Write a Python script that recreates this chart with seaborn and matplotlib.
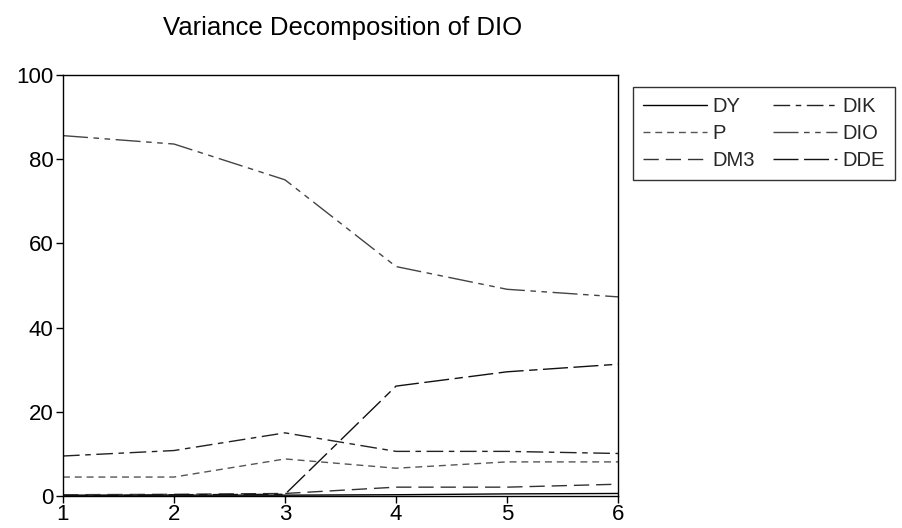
import matplotlib
matplotlib.use("Agg")
import matplotlib.pyplot as plt
import seaborn as sns
import numpy as np

periods = [1, 2, 3, 4, 5, 6]
DY  = [0.2, 0.2, 0.2, 0.3, 0.5, 0.6]
P   = [4.5, 4.5, 8.8, 6.6, 8.1, 8.1]
DM3 = [0.3, 0.4, 0.6, 2.1, 2.1, 2.8]
DIK = [9.5, 10.8, 15.0, 10.6, 10.6, 10.1]
DIO = [85.6, 83.6, 75.1, 54.5, 49.1, 47.3]
DDE = [0.0, 0.3, 0.4, 26.1, 29.5, 31.3]

series_names = ["DY", "P", "DM3", "DIK", "DIO", "DDE"]
series_vals = [DY, P, DM3, DIK, DIO, DDE]
colors = ["#000000", "#555555", "#333333", "#222222", "#444444", "#111111"]
dashes = [
    None,
    (0, (5, 3.5)),
    (0, (11, 5)),
    (0, (12, 4, 4, 4)),
    (0, (18, 4, 4, 4, 4, 4)),
    (0, (18, 4, 18, 4, 6, 4)),
]

sns.set_style("white")
plt.rcParams["font.family"] = ["Liberation Sans", "DejaVu Sans"]

fig = plt.figure(figsize=(9.02, 5.28), dpi=100)
ax = fig.add_axes([63/902, 1-496/528, (618-63)/902, (496-75)/528])

for name, vals, c, d in zip(series_names, series_vals, colors, dashes):
    if d is None:
        sns.lineplot(x=periods, y=vals, ax=ax, color=c, linewidth=1.0, label=name)
    else:
        sns.lineplot(x=periods, y=vals, ax=ax, color=c, linewidth=1.0, linestyle=d, label=name)

ax.set_xlim(1, 6)
ax.set_ylim(0, 100)
ax.set_xticks(periods)
ax.set_yticks([0, 20, 40, 60, 80, 100])
ax.tick_params(axis="both", which="major", direction="out", length=5, width=1,
               labelsize=16, colors="black", bottom=True, left=True, top=False, right=False)
ax.tick_params(axis="x", pad=0.5)
ax.tick_params(axis="y", pad=2)
for s in ax.spines.values():
    s.set_color("black")
    s.set_linewidth(1.0)
ax.set_xlabel("")
ax.set_ylabel("")

ax.legend_.remove()
handles, labels = ax.get_legend_handles_labels()
leg = fig.legend(handles, labels, loc="upper left", bbox_to_anchor=(633/902, 1-87/528),
                 ncol=2, fontsize=14.5, frameon=True, fancybox=False, handlelength=3.15,
                 labelspacing=0.4, columnspacing=0.9, handletextpad=0.3, borderpad=0.5,
                 borderaxespad=0)
leg.get_frame().set_edgecolor("black")
leg.get_frame().set_linewidth(1.0)

fig.text(163/902, 1-35/528, "Variance Decomposition of DIO", ha="left", va="baseline",
         fontsize=18.5, color="black")

fig.savefig("out.png", dpi=100)
